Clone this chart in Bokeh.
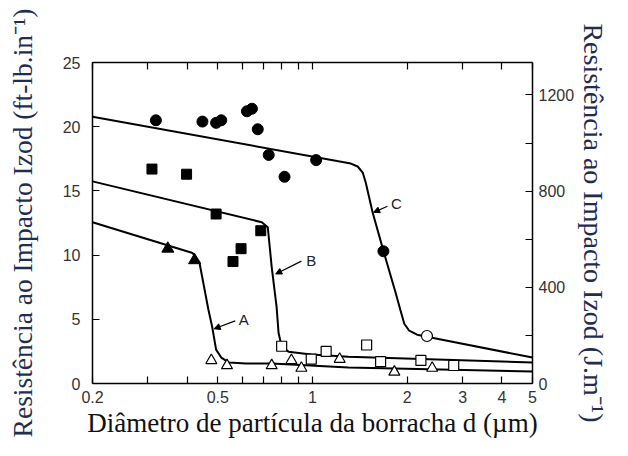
from bokeh.plotting import figure
from bokeh.models import Range1d, LinearAxis, LogAxis, FixedTicker, Label, Arrow, NormalHead
from bokeh.embed import file_html
from bokeh.resources import INLINE

# ---------------- data ----------------
# fitted curves (diameter in um, Izod in ft-lb/in)
curve_a_d = [0.2, 0.416, 0.437, 0.467, 0.480, 0.494, 0.513, 0.543, 0.614, 0.742, 1.30, 5.0]
curve_a_v = [12.56, 10.16, 9.46, 5.74, 4.42, 2.64, 2.02, 1.63, 1.55, 1.55, 1.24, 0.93]

curve_b_d = [0.2, 0.690, 0.721, 0.742, 0.769, 0.780, 0.798, 0.839, 0.991, 1.30, 5.0]
curve_b_v = [15.74, 12.56, 12.17, 9.07, 5.97, 3.95, 2.87, 2.48, 2.25, 2.09, 1.63]

curve_c_d = [0.2, 1.324, 1.392, 1.444, 1.476, 1.552, 1.681, 1.834, 1.901, 1.957, 2.029, 2.15, 2.31, 5.0]
curve_c_v = [20.78, 17.13, 16.90, 16.43, 15.66, 13.33, 10.31, 7.13, 5.74, 4.65, 4.11, 3.80, 3.64, 2.02]

# filled markers (tough)
circ_d = [0.318, 0.447, 0.494, 0.513, 0.619, 0.642, 0.670, 0.726, 0.815, 1.027, 1.68]
circ_v = [20.5, 20.4, 20.3, 20.5, 21.2, 21.4, 19.8, 17.8, 16.1, 17.4, 10.3]
sq_d = [0.309, 0.398, 0.494, 0.559, 0.593, 0.685]
sq_v = [16.7, 16.3, 13.2, 9.5, 10.5, 11.9]
tri_d = [0.347, 0.422]
tri_v = [10.5, 9.6]

# open markers (brittle)
osq_d = [0.798, 0.991, 1.105, 1.486, 1.646, 2.21, 2.81]
osq_v = [2.9, 1.9, 2.5, 3.0, 1.7, 1.8, 1.4]
otri_d = [0.477, 0.535, 0.742, 0.857, 0.922, 1.22, 1.82, 2.40]
otri_v = [1.8, 1.4, 1.4, 1.8, 1.2, 1.9, 0.9, 1.2]
ocirc_d = [2.31]
ocirc_v = [3.7]

# curve labels with leader arrows
lab_text = ["A", "B", "C"]
lab_x = [0.605, 0.991, 1.846]
lab_y = [4.96, 9.61, 14.03]
lead_x0 = [0.568, 0.922, 1.731]
lead_y0 = [4.88, 9.53, 13.80]
lead_x1 = [0.487, 0.764, 1.564]
lead_y1 = [4.26, 8.53, 13.33]

# axes
x_major_ticks = [0.2, 0.5, 1, 2, 3, 4, 5]
x_minor_ticks = [0.3, 0.4, 0.6, 0.7, 0.8, 0.9]
y_ticks = [0, 5, 10, 15, 20, 25]
jm_major_ticks = [0, 400, 800, 1200]
jm_minor_ticks = [200, 600, 1000]
jm_top = 1335  # 25 ft-lb/in in J/m

y_title_left = "Resistência ao Impacto Izod (ft-lb.in\u207b\u00b9)"
y_title_right = "Resistência ao Impacto Izod (J.m\u207b\u00b9)"
x_title = "Diâmetro de partícula da borracha d (µm)"

# ---------------- figure ----------------
p = figure(width=612, height=440, x_axis_type="log",
           x_range=Range1d(0.2, 5), y_range=Range1d(0, 25),
           output_backend="svg", toolbar_location=None,
           min_border_left=92, min_border_right=75,
           min_border_top=62, min_border_bottom=56)
p.grid.visible = False
p.outline_line_color = None
p.extra_y_ranges = {"jm": Range1d(0, jm_top)}

TICK_FONT = "Liberation Sans"
TITLE_FONT = "Liberation Serif"


def style(ax):
    ax.axis_line_color = "black"
    ax.axis_line_width = 1.5
    ax.major_tick_line_color = "black"
    ax.major_tick_line_width = 1.2
    ax.major_tick_in = 7
    ax.major_tick_out = 0
    ax.minor_tick_line_color = "black"
    ax.minor_tick_line_width = 1.2
    ax.minor_tick_in = 7
    ax.minor_tick_out = 0
    ax.major_label_text_font = TICK_FONT
    ax.major_label_text_font_size = "16px"
    ax.major_label_text_color = "#333333"


xa = p.xaxis[0]
xa.ticker = FixedTicker(ticks=x_major_ticks, minor_ticks=x_minor_ticks)
style(xa)
xa.major_label_standoff = 7
xa.axis_label = x_title
xa.axis_label_text_font = TITLE_FONT
xa.axis_label_text_font_size = "27px"
xa.axis_label_text_font_style = "normal"
xa.axis_label_text_color = "#111111"
xa.axis_label_standoff = 2

ya = p.yaxis[0]
ya.ticker = FixedTicker(ticks=y_ticks, minor_ticks=[])
style(ya)
ya.major_label_standoff = 12
ya.axis_label = y_title_left
ya.axis_label_text_font = TITLE_FONT
ya.axis_label_text_font_size = "27.5px"
ya.axis_label_text_font_style = "normal"
ya.axis_label_text_color = "#1f2d50"
ya.axis_label_standoff = 22

top = LogAxis(ticker=FixedTicker(ticks=[], minor_ticks=x_major_ticks + x_minor_ticks))
style(top)
p.add_layout(top, "above")

ra = LinearAxis(y_range_name="jm", ticker=FixedTicker(ticks=jm_major_ticks, minor_ticks=jm_minor_ticks))
style(ra)
ra.major_label_standoff = 6
ra.axis_label = y_title_right
ra.axis_label_text_font = TITLE_FONT
ra.axis_label_text_font_size = "28px"
ra.axis_label_text_font_style = "normal"
ra.axis_label_text_color = "#1f2d50"
ra.axis_label_standoff = 1
p.add_layout(ra, "right")

# curves
for xs, ys in [(curve_a_d, curve_a_v), (curve_b_d, curve_b_v), (curve_c_d, curve_c_v)]:
    p.line(xs, ys, line_color="black", line_width=2)

# filled markers
p.scatter(circ_d, circ_v, marker="circle", size=11, fill_color="black", line_color="black")
p.scatter(sq_d, sq_v, marker="square", size=10, fill_color="black", line_color="black")
p.scatter(tri_d, tri_v, marker="triangle", size=12, fill_color="black", line_color="black")

# open markers
p.scatter(osq_d, osq_v, marker="square", size=10, fill_color="white", line_color="black", line_width=1.2)
p.scatter(otri_d, otri_v, marker="triangle", size=11, fill_color="white", line_color="black", line_width=1.2)
p.scatter(ocirc_d, ocirc_v, marker="circle", size=11, fill_color="white", line_color="black", line_width=1.2)

# curve labels
for t, lx, ly, x0, y0, x1, y1 in zip(lab_text, lab_x, lab_y, lead_x0, lead_y0, lead_x1, lead_y1):
    p.add_layout(Label(x=lx, y=ly, text=t, text_font=TICK_FONT, text_font_size="15px",
                       text_color="#222222", text_align="center", text_baseline="middle"))
    p.add_layout(Arrow(end=NormalHead(size=6, fill_color="black", line_color="black"),
                       x_start=x0, y_start=y0, x_end=x1, y_end=y1,
                       line_color="black", line_width=1.2))

open("out.html", "w").write(file_html(p, INLINE))
